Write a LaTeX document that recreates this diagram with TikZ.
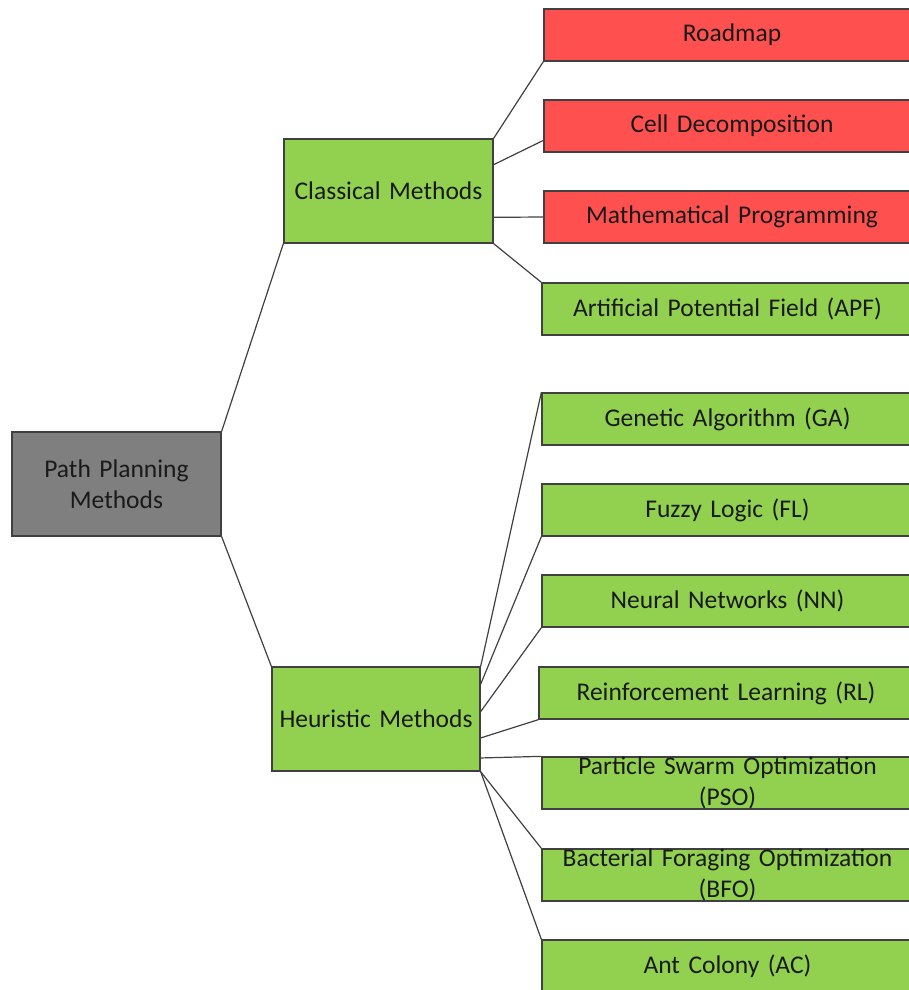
\documentclass[tikz,border=0pt]{standalone}
\usepackage{fontspec}
\setmainfont{Carlito}
\usetikzlibrary{calc}
\hyphenpenalty=10000
\exhyphenpenalty=10000
\definecolor{boxgreen}{HTML}{92D050}
\definecolor{boxred}{HTML}{FF5050}
\definecolor{boxgray}{HTML}{7F7F7F}
\definecolor{edgegray}{HTML}{404040}
\definecolor{inkdark}{HTML}{1A1A1A}
\begin{document}
\begin{tikzpicture}[x=1pt,y=-1pt,
  box/.style={draw=edgegray, line width=1.3pt, inner sep=0pt, align=center,
    text=inkdark, font=\fontsize{25.5}{30.5}\selectfont},
  mainbox/.style={box, minimum width=209, minimum height=104, text width=200},
  leafbox/.style={box, minimum height=52, text width=345},
  redleaf/.style={leafbox, fill=boxred, minimum width=376},
  greenleaf/.style={leafbox, fill=boxgreen, minimum width=371},
  link/.style={draw=edgegray, line width=1.2pt}]
\useasboundingbox (0,0) rectangle (909,990);
\clip (0,0) rectangle (909,990);

% root and the two method families
\node[mainbox, fill=boxgray] (root) at (116.5,484) {Path Planning\\Methods};
\node[mainbox, fill=boxgreen] (cls) at (388.5,191) {Classical Methods};
\node[mainbox, fill=boxgreen, minimum width=208] (heu) at (376,719) {Heuristic Methods};

% classical methods
\node[redleaf] (road) at (732,35) {Roadmap};
\node[redleaf] (cell) at (732,126) {Cell Decomposition};
\node[redleaf] (math) at (732,217) {Mathematical Programming};
\node[greenleaf] (apf) at (727.5,309) {Artificial Potential Field (APF)};

% heuristic methods
\node[greenleaf] (ga) at (727.5,419) {Genetic Algorithm (GA)};
\node[greenleaf] (fl) at (727.5,510) {Fuzzy Logic (FL)};
\node[greenleaf] (nn) at (727.5,601) {Neural Networks (NN)};
\node[greenleaf, minimum width=374] (rl) at (726,693) {Reinforcement Learning (RL)};
\node[greenleaf] (pso) at (727.5,783) {Particle Swarm Optimization\\(PSO)};
\node[greenleaf] (bfo) at (727.5,875) {Bacterial Foraging Optimization\\(BFO)};
\node[greenleaf] (ac) at (727.5,966) {Ant Colony (AC)};

% root connectors
\draw[link] (root.north east) -- (cls.south west);
\draw[link] (root.south east) -- (heu.north west);

% classical connectors
\draw[link] (cls.north east) -- (road.south west);
\draw[link] ($(cls.north east)!0.25!(cls.south east)$) -- ($(cell.north west)!0.77!(cell.south west)$);
\draw[link] ($(cls.north east)!0.75!(cls.south east)$) -- (math.west);
\draw[link] (cls.south east) -- (apf.north west);

% heuristic connectors
\draw[link] (heu.north east) -- (ga.north west);
\draw[link] ($(heu.north east)!0.17!(heu.south east)$) -- (fl.south west);
\draw[link] ($(heu.north east)!0.43!(heu.south east)$) -- (nn.south west);
\draw[link] ($(heu.north east)!0.68!(heu.south east)$) -- (rl.south west);
\draw[link] ($(heu.north east)!0.87!(heu.south east)$) -- (pso.north west);
\draw[link] (heu.south east) -- (bfo.north west);
\draw[link] (heu.south east) -- (ac.north west);
\end{tikzpicture}
\end{document}
